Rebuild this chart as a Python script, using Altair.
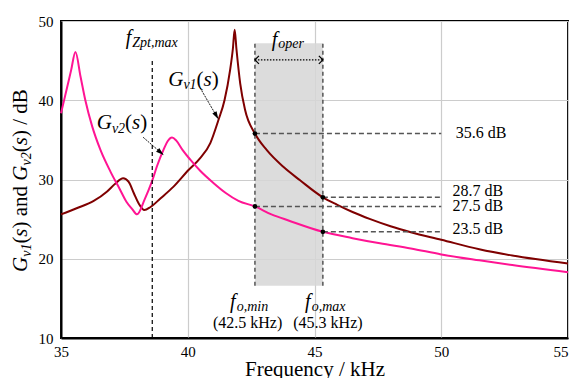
import altair as alt
import pandas as pd

SERIF = "'Liberation Serif', 'Times New Roman', Times, 'DejaVu Serif', serif"

# ---------------- data ----------------
gv1_freq = [35.0, 35.64, 36.29, 36.82, 37.15, 37.45, 37.67, 37.87, 38.06, 38.29,
            38.52, 38.92, 39.44, 40.03, 40.49, 40.89, 41.21, 41.45, 41.67, 41.78,
            41.85, 41.92, 42.07, 42.26, 42.65, 43.12, 43.77, 44.43, 45.33, 45.9,
            46.5, 47.2, 48.0, 48.8, 50.0, 51.5, 52.8, 55.0]
gv1_db = [25.6, 26.4, 27.3, 28.5, 29.5, 30.15, 29.7, 28.3, 27.0, 26.15,
          26.5, 27.6, 29.1, 31.2, 32.7, 34.6, 37.5, 40.0, 43.8, 46.5,
          48.9, 46.5, 42.1, 38.8, 35.8, 33.7, 31.6, 29.9, 27.75, 26.8,
          25.9, 25.0, 24.1, 23.35, 22.4, 21.2, 20.4, 19.4]

gv2_freq = [35.0, 35.24, 35.4, 35.57, 35.77, 35.96, 36.23, 36.56, 36.95, 37.3,
            37.58, 37.8, 38.0, 38.3, 38.57, 38.8, 39.05, 39.2, 39.38, 39.55,
            39.8, 40.1, 40.49, 41.0, 41.5, 42.0, 42.65, 43.3, 44.0, 45.33,
            46.5, 47.58, 48.8, 50.0, 51.5, 52.8, 55.0]
gv2_db = [38.35, 41.6, 43.8, 46.1, 43.0, 40.0, 36.7, 33.7, 31.0, 28.9,
          27.2, 26.3, 25.6, 27.5, 29.6, 31.8, 33.8, 34.8, 35.3, 34.9,
          33.7, 32.5, 31.1, 29.6, 28.3, 27.3, 26.6, 25.6, 24.8, 23.4,
          22.6, 21.95, 21.3, 20.55, 19.8, 19.2, 18.3]

x_ticks = [35, 40, 45, 50, 55]
y_ticks = [10, 20, 30, 40, 50]

fo_min = 42.65
fo_max = 45.33
f_zpt = 38.60
zpt_top = 45.3
band_lo, band_hi = 16.6, 47.2
oper_arrow_db = 45.1
ref_end = 50.0

dot_f = [42.65, 45.33, 42.65, 45.33]
dot_db = [35.8, 27.75, 26.6, 23.4]
db_texts = ["35.6 dB", "28.7 dB", "27.5 dB", "23.5 dB"]
db_text_f = [50.57, 50.44, 50.44, 50.44]
db_text_db = [35.27, 27.92, 26.06, 23.12]

fo_texts = ["(42.5 kHz)", "(45.3 kHz)"]
fo_text_f = [42.36, 45.53]
fo_text_db = [11.2, 11.2]

# ---------------- encodings ----------------
X = alt.X("f:Q", scale=alt.Scale(domain=[35, 55], nice=False, zero=False),
          axis=alt.Axis(values=x_ticks, title="Frequency / kHz", labelFlush=False,
                        labelAlign={"condition": {"test": "datum.value == 55", "value": "right"},
                                    "value": "center"},
                        labelPadding=6, titleY=37, titleBaseline="alphabetic",
                        grid=True))
Y = alt.Y("db:Q", scale=alt.Scale(domain=[10, 50], nice=False, zero=False),
          axis=alt.Axis(values=y_ticks, title=None, labelPadding=8, grid=True,
                        labelFlush=False))

GV1_COLOR = "#7f0000"
GV2_COLOR = "#ff1493"

curve1 = alt.Chart(pd.DataFrame({"f": gv1_freq, "db": gv1_db})).mark_line(
    color=GV1_COLOR, strokeWidth=2, interpolate="monotone").encode(x=X, y=Y)
curve2 = alt.Chart(pd.DataFrame({"f": gv2_freq, "db": gv2_db})).mark_line(
    color=GV2_COLOR, strokeWidth=2, interpolate="monotone").encode(x=X, y=Y)

band = alt.Chart(pd.DataFrame({"f": [fo_min], "f2": [fo_max], "db": [band_lo], "db2": [band_hi]})).mark_rect(
    color="#d6d6d6", opacity=0.85).encode(x=X, x2="f2:Q", y=Y, y2="db2:Q")

band_edges = alt.Chart(pd.DataFrame({"f": [fo_min, fo_max], "db": [band_lo, band_lo],
                                     "db2": [band_hi, band_hi]})).mark_rule(
    color="#555555", strokeWidth=1.5, strokeDash=[4, 3]).encode(x=X, y=Y, y2="db2:Q")

zpt_line = alt.Chart(pd.DataFrame({"f": [f_zpt], "db": [10], "db2": [zpt_top]})).mark_rule(
    color="black", strokeWidth=1.2, strokeDash=[4, 3]).encode(x=X, y=Y, y2="db2:Q")

hlines = alt.Chart(pd.DataFrame({"f": dot_f, "f2": [ref_end] * 4, "db": dot_db})).mark_rule(
    color="#555555", strokeWidth=1.5, strokeDash=[5, 3]).encode(x=X, x2="f2:Q", y=Y)

dots = alt.Chart(pd.DataFrame({"f": dot_f, "db": dot_db})).mark_circle(
    size=22, color="black", opacity=1).encode(x=X, y=Y)

oper_line = alt.Chart(pd.DataFrame({"f": [fo_min], "f2": [fo_max], "db": [oper_arrow_db]})).mark_rule(
    color="black", strokeWidth=1.4, strokeDash=[1.5, 1.5]).encode(x=X, x2="f2:Q", y=Y)
oper_left = alt.Chart(pd.DataFrame({"f": [fo_min], "db": [oper_arrow_db]})).mark_point(
    shape="M1,-1L0,0L1,1", filled=False, size=64, strokeWidth=1.2, color="black", opacity=1).encode(x=X, y=Y)
oper_right = alt.Chart(pd.DataFrame({"f": [fo_max], "db": [oper_arrow_db]})).mark_point(
    shape="M-1,-1L0,0L-1,1", filled=False, size=64, strokeWidth=1.2, color="black", opacity=1).encode(x=X, y=Y)

# label arrows
arr1 = pd.DataFrame({"f": [40.49], "db": [41.55], "f2": [41.21], "db2": [37.6]})
arr2 = pd.DataFrame({"f": [38.24], "db": [35.33], "f2": [39.05], "db2": [33.09]})
arrow_lines = alt.Chart(pd.concat([arr1, arr2])).mark_rule(
    color="black", strokeWidth=0.9, strokeDash=[2, 1]).encode(x=X, y=Y, x2="f2:Q", y2="db2:Q")
HEAD = "M0,0L-0.55,1.8L0.55,1.8Z"
head1 = alt.Chart(pd.DataFrame({"f": [41.21], "db": [37.6]})).mark_point(
    shape=HEAD, filled=True, size=78, angle=150, color="black", opacity=1).encode(x=X, y=Y)
head2 = alt.Chart(pd.DataFrame({"f": [39.05], "db": [33.09]})).mark_point(
    shape=HEAD, filled=True, size=78, angle=131, color="black", opacity=1).encode(x=X, y=Y)

db_labels = alt.Chart(pd.DataFrame({"f": db_text_f, "db": db_text_db, "t": db_texts})).mark_text(
    font=SERIF, fontSize=16, align="left", baseline="alphabetic", color="black").encode(x=X, y=Y, text="t:N")
fo_labels = alt.Chart(pd.DataFrame({"f": fo_text_f, "db": fo_text_db, "t": fo_texts})).mark_text(
    font=SERIF, fontSize=16, align="center", baseline="alphabetic", color="black").encode(x=X, y=Y, text="t:N")

# ---------------- rich (sub-scripted) text helper ----------------
ROMAN = {' ': 250, '(': 333, ')': 333, '/': 278, 'a': 444, 'n': 500, 'd': 500, 'B': 667, ',': 250}
ITALIC = {'G': 722, 'v': 444, '1': 500, '2': 500, 's': 389, 'f': 330, 'o': 500, 'p': 500,
          'e': 444, 'r': 389, 'm': 722, 'i': 278, 'n': 500, 'a': 500, 'x': 444, 'Z': 556,
          't': 278, ',': 250, ' ': 250}


def rich(pieces, anchor, base=21, sub=14, shift=3.5, angle=0):
    layers = []
    off = 0.0
    for txt, ital, is_sub in pieces:
        size = sub if is_sub else base
        table = ITALIC if ital else ROMAN
        lead = len(txt) - len(txt.lstrip(" "))
        off += lead * table[' '] * size / 1000.0
        core = txt.strip(" ")
        kw = dict(text=core, font=SERIF, fontSize=size, fontStyle="italic" if ital else "normal",
                  align="left", baseline="alphabetic", color="black", dx=off,
                  dy=shift if is_sub else 0)
        if angle:
            kw["angle"] = angle
        if anchor[0] == "data":
            ch = alt.Chart(pd.DataFrame({"f": [anchor[1]], "db": [anchor[2]]})).mark_text(**kw).encode(x=X, y=Y)
        else:
            ch = alt.Chart(pd.DataFrame({"k": [0]})).mark_text(**kw).encode(
                x=alt.value(anchor[1]), y=alt.value(anchor[2]))
        layers.append(ch)
        off += sum(table[c] for c in txt.lstrip(" ")) * size / 1000.0
    return layers


I, R = True, False
gv1_label = rich([("G", I, False), ("v1", I, True), ("(", R, False), ("s", I, False), (")", R, False)],
                 ("data", 39.23, 41.8))
gv2_label = rich([("G", I, False), ("v2", I, True), ("(", R, False), ("s", I, False), (")", R, False)],
                 ("data", 36.41, 36.33))
zpt_label = rich([("f", I, False), ("Zpt,max", I, True)], ("data", 37.55, 47.1), base=20, shift=3)
oper_label = rich([("f", I, False), ("oper", I, True)], ("data", 43.31, 46.85), base=20, shift=2.5)
fomin_label = rich([("f", I, False), ("o,min", I, True)], ("data", 41.67, 13.75), base=20, shift=2.5)
fomax_label = rich([("f", I, False), ("o,max", I, True)], ("data", 44.63, 13.75), base=20, shift=2.5)
y_title = rich([("G", I, False), ("v1", I, True), ("(", R, False), ("s", I, False), (")", R, False),
                (" and ", R, False),
                ("G", I, False), ("v2", I, True), ("(", R, False), ("s", I, False), (")", R, False),
                (" / dB", R, False)],
               ("px", -34, 251), angle=270)

layers = [band, curve1, curve2, band_edges, zpt_line, hlines, oper_line, oper_left, oper_right,
          arrow_lines, head1, head2, dots, db_labels, fo_labels]
layers += gv1_label + gv2_label + zpt_label + oper_label + fomin_label + fomax_label + y_title

chart = alt.layer(*layers).properties(
    width=507, height=317,
    autosize=alt.AutoSizeParams(type="none"),
    padding={"left": 53, "top": 13, "right": 1, "bottom": 40},
).configure_view(stroke="black", strokeWidth=2).configure_axis(
    domainColor="black", domainWidth=2, gridColor="#cccccc", gridWidth=1.2, ticks=False,
    labelFont=SERIF, labelFontSize=15, labelColor="black",
    titleFont=SERIF, titleFontSize=21, titleFontWeight="normal", titleColor="black",
)

chart.save("out.html", embed_options={"renderer": "svg", "actions": False})
